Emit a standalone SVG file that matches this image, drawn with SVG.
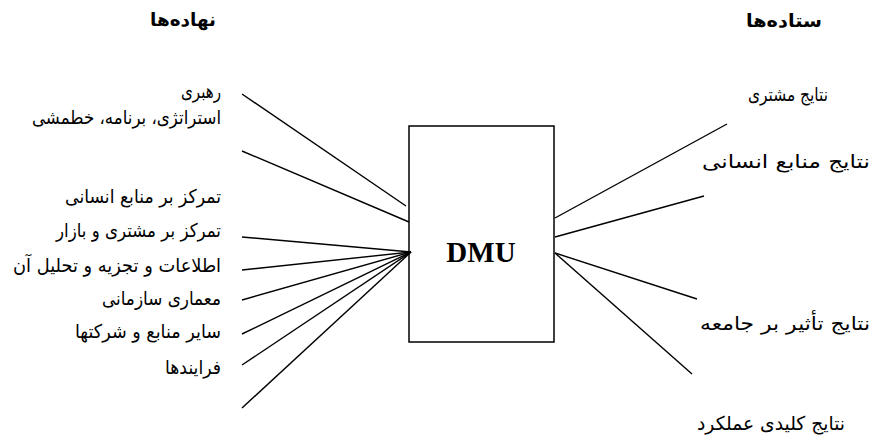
<svg xmlns="http://www.w3.org/2000/svg" width="872" height="438" viewBox="0 0 872 438">
<style>
.lbl{font-family:"DejaVu Sans",sans-serif;font-size:19px;fill:#000;text-anchor:end}
.ttl{font-family:"DejaVu Sans",sans-serif;font-size:18px;font-weight:bold;fill:#000;text-anchor:end}
.ln{stroke:#000;stroke-width:1.4;fill:none}
</style>
<rect width="872" height="438" fill="#fff"/>
<g id="titles">
<text class="ttl" x="216" y="26" textLength="66" lengthAdjust="spacingAndGlyphs">نهاده‌ها</text>
<text class="ttl" x="822" y="27" textLength="76" lengthAdjust="spacingAndGlyphs">ستاده‌ها</text>
</g>
<g id="dmu">
<rect x="409" y="126" width="145" height="216" fill="#fff" stroke="#000" stroke-width="1.5"/>
<text x="481" y="262" font-family="Liberation Serif,serif" font-weight="bold" font-size="29" text-anchor="middle">DMU</text>
</g>
<g id="connectors" class="ln">
<line x1="242" y1="94" x2="406" y2="206"/>
<line x1="242" y1="151" x2="409" y2="222"/>
<line x1="242" y1="237" x2="411" y2="252"/>
<line x1="242" y1="270" x2="411" y2="252"/>
<line x1="242" y1="300" x2="411" y2="252"/>
<line x1="242" y1="334" x2="411" y2="252"/>
<line x1="242" y1="365" x2="411" y2="252"/>
<line x1="242" y1="408" x2="411" y2="252"/>
<line x1="555" y1="218" x2="727" y2="124"/>
<line x1="555" y1="237" x2="704" y2="196"/>
<line x1="555" y1="253" x2="697" y2="299"/>
<line x1="555" y1="253" x2="692" y2="374"/>
</g>
<g id="inputs">
<text class="lbl" x="221" y="98" textLength="40" lengthAdjust="spacingAndGlyphs">رهبری</text>
<text class="lbl" x="221" y="124" textLength="189" lengthAdjust="spacingAndGlyphs">استراتژی، برنامه، خطمشی</text>
<text class="lbl" x="221" y="203" textLength="156" lengthAdjust="spacingAndGlyphs">تمرکز بر منابع انسانی</text>
<text class="lbl" x="221" y="237" textLength="165" lengthAdjust="spacingAndGlyphs">تمرکز بر مشتری و بازار</text>
<text class="lbl" x="221" y="272" textLength="208" lengthAdjust="spacingAndGlyphs">اطلاعات و تجزیه و تحلیل آن</text>
<text class="lbl" x="221" y="305" textLength="119" lengthAdjust="spacingAndGlyphs">معماری سازمانی</text>
<text class="lbl" x="221" y="338" textLength="146" lengthAdjust="spacingAndGlyphs">سایر منابع و شرکتها</text>
<text class="lbl" x="221" y="374" textLength="56" lengthAdjust="spacingAndGlyphs">فرایندها</text>
</g>
<g id="outputs">
<text class="lbl" x="828" y="101" textLength="80" lengthAdjust="spacingAndGlyphs">نتایج مشتری</text>
<text class="lbl" x="870" y="168" textLength="168" lengthAdjust="spacingAndGlyphs">نتایج منابع انسانی</text>
<text class="lbl" x="870" y="330" textLength="170" lengthAdjust="spacingAndGlyphs">نتایج تأثیر بر جامعه</text>
<text class="lbl" x="845" y="430" textLength="148" lengthAdjust="spacingAndGlyphs">نتایج کلیدی عملکرد</text>
</g>
</svg>
